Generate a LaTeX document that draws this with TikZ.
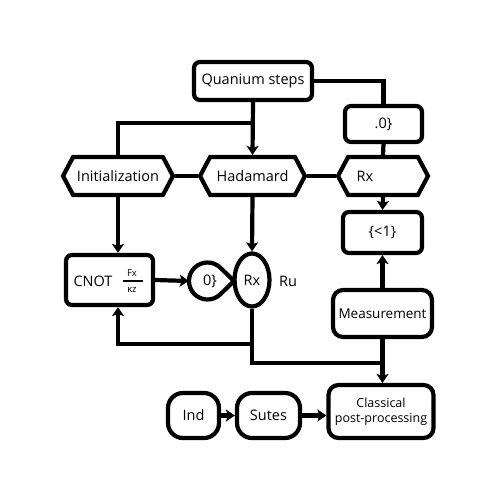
\documentclass[tikz,border=0pt]{standalone}
\usepackage{fontspec}
\setmainfont{Open Sans}
\usetikzlibrary{arrows.meta,shapes.geometric,shapes.symbols,calc}
\begin{document}
\begin{tikzpicture}[x=1pt,y=-1pt,
  ln/.style={line width=4.2pt},
  arr/.style={ln,-{Stealth[length=9pt,width=12pt,inset=2pt]}},
  rbox/.style={draw,ln,rounded corners=6pt,inner sep=0pt,font=\fontsize{14.5}{17}\selectfont,align=center},
  hexa/.style={draw,ln,shape=signal,signal to=east and west,signal pointer angle=124,inner sep=0pt,minimum height=38pt,font=\fontsize{14.5}{17}\selectfont},
  txt/.style={inner sep=0pt,font=\fontsize{14.5}{17}\selectfont},
  small/.style={inner sep=0pt,font=\fontsize{9.5}{10}\selectfont}]
\useasboundingbox (0,0) rectangle (500,500);
% nodes
\node[rbox,minimum width=118pt,minimum height=38pt] (qs) at (253,81) {Quanium steps};
\node[rbox,minimum width=77pt,minimum height=36pt] (o0) at (383.5,124) {.0\}};
\node[hexa,minimum width=110pt] (init) at (118,176) {Initialization};
\node[hexa,minimum width=105pt] (had) at (252.5,176) {Hadamard};
\node[hexa,minimum width=90pt] (rxh) at (383,176) {};
\node[txt] (rxt) at (365,176) {Rx};
\node[rbox,minimum width=79pt,minimum height=41pt] (lt1) at (382.5,232.5) {\{<1\}};
\node[rbox,rounded corners=10pt,minimum width=99pt,minimum height=47pt,font=\fontsize{13.5}{16}\selectfont] (meas) at (382.5,313.5) {Measurement};
\node[rbox,minimum width=87pt,minimum height=50pt] (cnot) at (109.5,280) {};
\node[txt] (cnott) at (93,281) {CNOT};
\node[small] (fx) at (132,273) {Fx};
\node[small] (kz) at (132,289.5) {κz};
\draw[line width=1.4pt] (123,281) -- (143,281);
\node[circle,minimum size=37pt,inner sep=0pt] (zero) at (207.5,281) {};
\draw[ln] (234,281) -- ($(zero.center)+(45.7:18.5)$) arc[start angle=45.7,end angle=314.3,radius=18.5] -- cycle;
\node[txt] (zt) at (210,281) {0\}};
\node[draw,ln,ellipse,minimum width=35pt,minimum height=53pt,inner sep=0pt,font=\fontsize{14.5}{17}\selectfont] (rx) at (252,280) {Rx};
\node[txt] (ru) at (288,281) {Ru};
\node[rbox,rounded corners=10pt,minimum width=105pt,minimum height=53pt,font=\fontsize{12.5}{15}\selectfont] (cpp) at (381,411.5) {Classical\\post-processing};
\node[rbox,rounded corners=15pt,minimum width=51pt,minimum height=45pt] (ind) at (193.5,415.5) {Ind};
\node[rbox,rounded corners=15pt,minimum width=63pt,minimum height=45pt] (sutes) at (268.5,415.5) {Sutes};
% connectors
\coordinate (b1) at (253,123);
\draw[arr] (qs.south) -- (had.north);
\draw[ln] (b1) -| (init.north);
\draw[ln] (qs.east) -| (o0.north);
\draw[ln] (o0.south) -- (rxh.north);
\draw[ln] (init.east) -- (had.west);
\draw[ln] (had.east) -- (rxh.west);
\draw[arr] (init.south) -- (init.south |- cnot.north);
\draw[arr] (had.south) -- (rx.north);
\draw[arr] (cnot.east) -- (zero.west);
\coordinate (c1) at (252,344);
\coordinate (c2) at (252,363);
\draw[arr] (rx.south) -- (c1) -| (init.south |- cnot.south);
\draw[ln] (c1) -- (c2) -- (c2 -| meas.south);
\draw[arr] (meas.south) -- (meas.south |- cpp.north);
\draw[arr] (meas.north) -- (lt1.south);
\draw[arr] (rxh.south) -- (lt1.north);
\draw[arr] (ind.east) -- (sutes.west);
\draw[arr] (sutes.east) -- (sutes.east -| cpp.west);
\end{tikzpicture}
\end{document}
